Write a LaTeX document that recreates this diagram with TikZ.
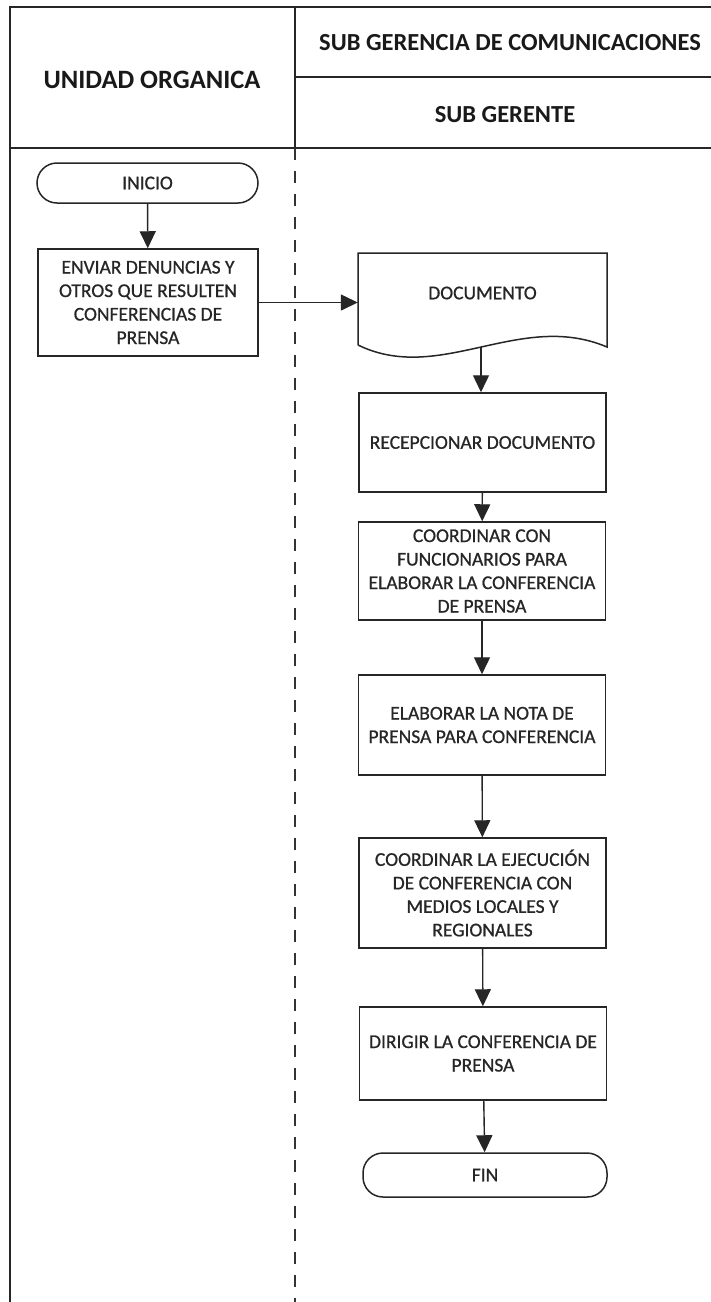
\documentclass[tikz,border=0pt]{standalone}
\usepackage{fontspec}
\setmainfont{Carlito}
\newfontfamily\boxfont[FakeBold=0.8]{Carlito}
\usetikzlibrary{arrows.meta}
\begin{document}
\begin{tikzpicture}[x=1pt,y=-1pt,
  frameline/.style={line width=1.6pt,draw=black!85},
  hdr/.style={font=\fontsize{24.5}{30}\selectfont\bfseries,text=black!90,inner sep=0pt},
  txt/.style={font=\boxfont\fontsize{19.5}{23.5}\selectfont,text=black!85,align=center,inner sep=0pt},
  procbox/.style={txt,draw=black!85,line width=1.5pt,minimum width=247pt},
  termbox/.style={txt,draw=black!85,line width=1.5pt,rounded corners=20pt},
  flow/.style={line width=1.4pt,draw=black!85,-{Triangle[length=17pt,width=16pt]}}]

% canvas
\useasboundingbox (0,0) rectangle (711,1302);
\fill[white] (0,0) rectangle (711,1302);

% table frame and lane divider
\draw[frameline] (10,1302) -- (10,7) -- (711,7);
\draw[frameline] (295,7) -- (295,148);
\draw[frameline] (295,77) -- (711,77);
\draw[frameline] (10,148) -- (711,148);
\draw[line width=1.5pt,draw=black!80,dash pattern=on 12pt off 11pt] (295,148) -- (295,1302);

% headers
\node[hdr,font=\fontsize{26.5}{30}\selectfont\bfseries] (unidad) at (152,80) {UNIDAD ORGANICA};
\node[hdr] (subger) at (510,43) {SUB GERENCIA DE COMUNICACIONES};
\node[hdr] (subgte) at (505,115) {SUB GERENTE};

% left lane
\node[termbox,minimum width=221pt,minimum height=40pt] (inicio) at (147.5,183) {INICIO};
\node[procbox,minimum width=220pt,minimum height=107pt] (enviar) at (148,302.5)
  {ENVIAR DENUNCIAS Y\\OTROS QUE RESULTEN\\CONFERENCIAS DE\\PRENSA};

% document shape
\node[txt,minimum width=249pt,minimum height=80pt] (doc) at (482.5,293) {DOCUMENTO};
\draw[line width=1.5pt,draw=black!85] (358,345) -- (358,253) -- (607,253) -- (607,347)
  .. controls (520,310) and (440,385) .. (358,345);
\coordinate (docout) at (481,347);

% right lane
\node[procbox,minimum height=99pt] (recep) at (482.5,442.5) {RECEPCIONAR DOCUMENTO};
\node[procbox,minimum height=98pt] (coordcon) at (482,571)
  {COORDINAR CON\\FUNCIONARIOS PARA\\ELABORAR LA CONFERENCIA\\DE PRENSA};
\node[procbox,minimum height=100pt] (elab) at (482,725)
  {ELABORAR LA NOTA DE\\PRENSA PARA CONFERENCIA};
\node[procbox,minimum height=110pt] (ejec) at (482.5,893)
  {COORDINAR LA EJECUCIÓN\\DE CONFERENCIA CON\\MEDIOS LOCALES Y\\REGIONALES};
\node[procbox,minimum height=93pt] (dirigir) at (483,1053.5)
  {DIRIGIR LA CONFERENCIA DE\\PRENSA};
\node[termbox,minimum width=244pt,minimum height=44pt] (fin) at (485,1175) {FIN};

% connectors
\draw[flow] (inicio) -- (enviar);
\draw[flow] (enviar.east) -- (enviar.east -| doc.west);
\draw[flow] (docout) -- (docout |- recep.north);
\draw[flow] (recep) -- (coordcon);
\draw[flow] (coordcon) -- (elab);
\draw[flow] (elab) -- (ejec);
\draw[flow] (ejec) -- (dirigir);
\draw[flow] (dirigir) -- (fin);
\end{tikzpicture}
\end{document}
